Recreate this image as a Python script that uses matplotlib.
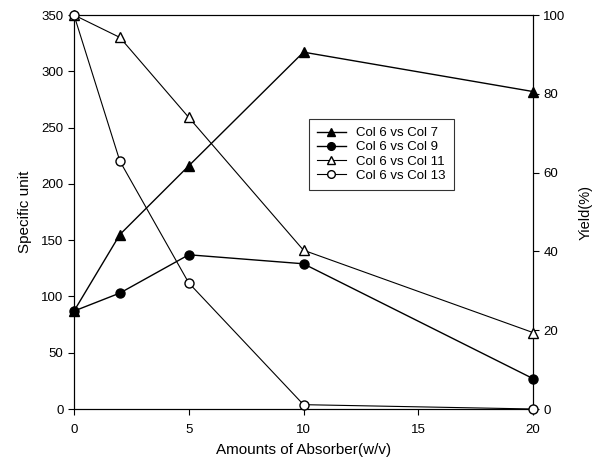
import numpy as np
import matplotlib
matplotlib.use('Agg')
import matplotlib.pyplot as plt

plt.rcParams['font.family'] = ['Liberation Sans', 'DejaVu Sans']

x = [0, 2, 5, 10, 20]
col7 = [87, 155, 216, 317, 282]
col9 = [87, 103, 137, 129, 27]
col11 = [100, 94.3, 74, 40.3, 19.4]
col13 = [100, 62.9, 32, 1.1, 0]

fig = plt.figure(figsize=(6.05, 4.61), dpi=100)
ax = fig.add_axes([74/605, 1-409/461, (533-74)/605, (409-15)/461])
ax2 = ax.twinx()

l1, = ax.plot(x, col7, '-', color='black', lw=1, marker='^', ms=6.5, mfc='black', clip_on=False, zorder=3)
l2, = ax.plot(x, col9, '-', color='black', lw=1, marker='o', ms=6.5, mfc='black', clip_on=False, zorder=3)
l3, = ax2.plot(x, col11, '-', color='black', lw=0.8, marker='^', ms=6.5, mfc='white', clip_on=False, zorder=3)
l4, = ax2.plot(x, col13, '-', color='black', lw=0.8, marker='o', ms=6.5, mfc='white', clip_on=False, zorder=3)

ax.set_xlim(0, 20)
ax.set_ylim(0, 350)
ax2.set_ylim(0, 100)
ax.set_xticks([0, 5, 10, 15, 20])
ax.set_yticks(range(0, 351, 50))
ax2.set_yticks(range(0, 101, 20))
for a in (ax, ax2):
    a.tick_params(direction='out', length=4, width=0.8, labelsize=9.5)
ax.tick_params(axis='x', pad=7)
ax.set_xlabel('Amounts of Absorber(w/v)', fontsize=11, labelpad=5)
ax.set_ylabel('Specific unit', fontsize=11, labelpad=7)
ax2.set_ylabel('Yield(%)', fontsize=10.5, labelpad=9)

leg = ax.legend([l1, l2, l3, l4],
                ['Col 6 vs Col 7', 'Col 6 vs Col 9', 'Col 6 vs Col 11', 'Col 6 vs Col 13'],
                loc='upper left', bbox_to_anchor=((309-74)/459, (409-119)/394),
                borderaxespad=0, fontsize=9.5, frameon=True, fancybox=False, edgecolor='black',
                handlelength=2.2, markerscale=0.85, borderpad=0.6, labelspacing=0.15)
leg.get_frame().set_linewidth(0.8)

fig.savefig('out.png', dpi=100)
